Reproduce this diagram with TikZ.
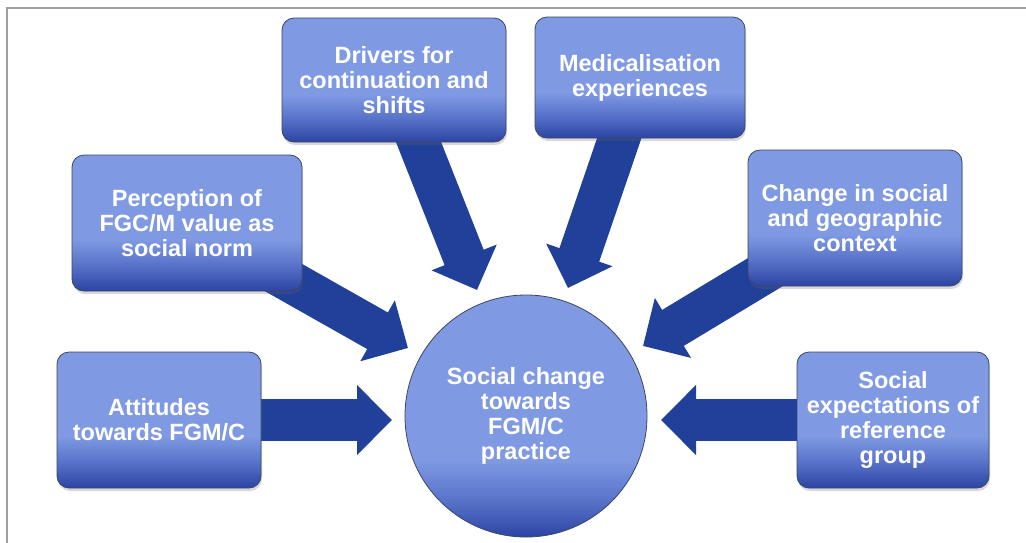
\documentclass[tikz,border=0pt]{standalone}
\usepackage{fontspec}
\setmainfont{Liberation Sans}
\usetikzlibrary{arrows.meta,shadows}
\definecolor{lt}{RGB}{127,154,227}
\definecolor{md}{RGB}{86,112,200}
\definecolor{dk}{RGB}{44,68,162}
\definecolor{arr}{RGB}{33,64,154}
\definecolor{bord}{RGB}{60,70,100}
\definecolor{frame}{RGB}{160,160,160}
\pgfdeclareverticalshading{boxsh}{100bp}{color(0bp)=(dk); color(25bp)=(dk); color(34bp)=(md); color(44bp)=(lt); color(100bp)=(lt)}
\pgfdeclareverticalshading{circsh}{100bp}{color(0bp)=(dk); color(25bp)=(dk); color(32bp)=(md); color(41bp)=(lt); color(100bp)=(lt)}
\tikzset{
  txt/.style={text=white, align=center, font=\fontsize{23.5}{25}\selectfont\bfseries},
  boxnode/.style={txt, rectangle, rounded corners=12pt, draw=bord, line width=0.8pt,
    shading=boxsh, inner sep=0pt,
    drop shadow={shadow xshift=1pt, shadow yshift=-3pt, opacity=0.25, fill=black!60}},
  hubnode/.style={txt, circle, draw=bord, line width=0.8pt, shading=circsh, inner sep=0pt,
    minimum size=242pt},
  bigarrow/.style={draw=arr, line width=42pt, -{Triangle[length=35pt,width=68pt]}, arr}
}
\begin{document}
\begin{tikzpicture}[x=1pt,y=-1pt]
\useasboundingbox (0,0) rectangle (1026,542);
% frame
\draw[frame, line width=2pt] (1030,8) -- (7,8) -- (7,546);
% tips of arrows
\coordinate (tdrv) at (477,290);
\coordinate (tmed) at (568,288);
\coordinate (tper) at (408,348);
\coordinate (tchg) at (643,346);
\coordinate (tatt) at (392,420);
\coordinate (tsoc) at (661,420);
% box centres
\coordinate (cdrv) at (394,80);
\coordinate (cmed) at (640,77.5);
\coordinate (cper) at (187,223);
\coordinate (cchg) at (855,218);
\coordinate (catt) at (159,420);
\coordinate (csoc) at (893,420);
% arrows (behind boxes)
\draw[bigarrow] (cdrv) -- (tdrv);
\draw[bigarrow] (cmed) -- (tmed);
\draw[bigarrow] (cper) -- (tper);
\draw[bigarrow] (cchg) -- (tchg);
\draw[bigarrow] (catt) -- (tatt);
\draw[bigarrow] (csoc) -- (tsoc);
% boxes
\node[boxnode, minimum width=224pt, minimum height=124pt] (drv) at (cdrv) {Drivers for\\continuation and\\shifts};
\node[boxnode, minimum width=210pt, minimum height=121pt] (med) at (cmed) {Medicalisation\\experiences};
\node[boxnode, minimum width=230pt, minimum height=136pt] (per) at (cper) {Perception of\\FGC/M value as\\social norm};
\node[boxnode, minimum width=214pt, minimum height=136pt] (chg) at (cchg) {Change in social\\and geographic\\context};
\node[boxnode, minimum width=204pt, minimum height=136pt] (att) at (catt) {Attitudes\\towards FGM/C};
\node[boxnode, minimum width=192pt, minimum height=136pt] (soc) at (csoc) {Social\\expectations of\\reference\\group};
% hub
\node[hubnode] (hub) at (526,416) {Social change\\towards\\FGM/C\\practice};
\end{tikzpicture}
\end{document}
